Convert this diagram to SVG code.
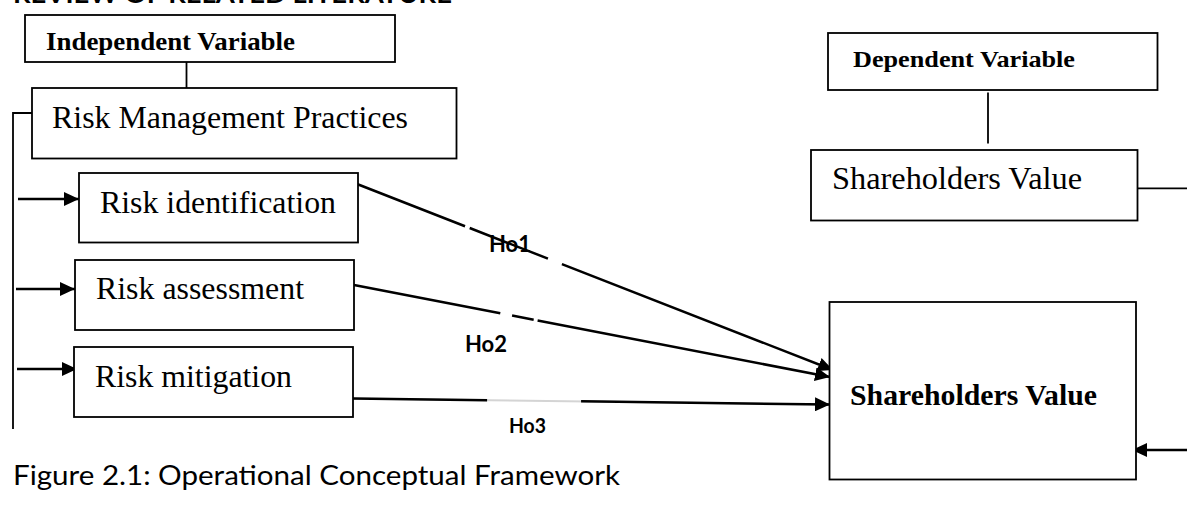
<svg xmlns="http://www.w3.org/2000/svg" width="1187" height="521" viewBox="0 0 1187 521">
  <defs>
    <style>
      .box { fill: #ffffff; stroke: #000000; stroke-width: 1.8; }
      .serif { font-family: "Liberation Serif", "Times New Roman", serif; fill: #000000; }
      .sans { font-family: Lato, "Open Sans", "Liberation Sans", sans-serif; fill: #000000; }
      .b { font-weight: bold; }
      .line { fill: none; stroke: #000000; stroke-width: 1.8; }
      .arrow { fill: none; stroke: #000000; stroke-width: 2.5; marker-end: url(#head); }
    </style>
    <marker id="head" markerUnits="userSpaceOnUse" markerWidth="16" markerHeight="14" refX="15" refY="7" orient="auto">
      <path d="M0,0 L15,7 L0,14 Z" fill="#000000"/>
    </marker>
  </defs>
  <rect x="0" y="0" width="1187" height="521" fill="#ffffff"/>

  <text class="sans b" x="13" y="3" font-size="24" textLength="439" lengthAdjust="spacingAndGlyphs">REVIEW OF RELATED LITERATURE</text>

  <g id="connectors">
    <line class="line" x1="186.5" y1="62" x2="186.5" y2="88"/>
    <line class="line" x1="988" y1="92.5" x2="988" y2="143.5"/>
    <polyline class="line" points="41,113 13,113 13,429"/>
    <line class="arrow" x1="18" y1="199" x2="79" y2="199"/>
    <line class="arrow" x1="16" y1="289" x2="75" y2="289"/>
    <line class="arrow" x1="17" y1="369" x2="77" y2="369"/>
    <line class="arrow" x1="357" y1="184" x2="833" y2="370" stroke-dasharray="116 5 84 15 1000"/>
    <line class="arrow" x1="354" y1="285" x2="830" y2="377" stroke-dasharray="149 12 22 4 1000"/>
    <line x1="352.6" y1="398.5" x2="830" y2="404.5" stroke="#d4d4d4" stroke-width="2"/>
    <line class="arrow" x1="352.6" y1="398.5" x2="830" y2="404.5" stroke-dasharray="134.5 94 1000"/>
    <line class="line" x1="1132" y1="188.3" x2="1187" y2="188.3"/>
    <line class="arrow" x1="1187" y1="450" x2="1132" y2="450"/>
  </g>

  <g id="independent-variable">
    <rect class="box" x="25" y="15" width="370" height="47"/>
    <text class="serif b" x="46" y="50" font-size="25" textLength="249" lengthAdjust="spacingAndGlyphs">Independent Variable</text>
  </g>

  <g id="risk-management-practices">
    <rect class="box" x="32" y="88" width="424.5" height="70.5"/>
    <text class="serif" x="52" y="128" font-size="32" textLength="356" lengthAdjust="spacingAndGlyphs">Risk Management Practices</text>
  </g>

  <g id="risk-identification">
    <rect class="box" x="79" y="173" width="279" height="69.5"/>
    <text class="serif" x="100" y="213" font-size="31" textLength="236" lengthAdjust="spacingAndGlyphs">Risk identification</text>
  </g>

  <g id="risk-assessment">
    <rect class="box" x="75" y="260" width="279" height="70"/>
    <text class="serif" x="96" y="299" font-size="31" textLength="208" lengthAdjust="spacingAndGlyphs">Risk assessment</text>
  </g>

  <g id="risk-mitigation">
    <rect class="box" x="74" y="347" width="279" height="70"/>
    <text class="serif" x="95" y="387" font-size="31" textLength="197" lengthAdjust="spacingAndGlyphs">Risk mitigation</text>
  </g>

  <g id="dependent-variable">
    <rect class="box" x="828" y="33" width="329.5" height="57"/>
    <text class="serif b" x="853" y="67" font-size="24" textLength="222" lengthAdjust="spacingAndGlyphs">Dependent Variable</text>
  </g>

  <g id="shareholders-value-label">
    <rect class="box" x="811" y="150" width="326.5" height="70.5"/>
    <text class="serif" x="832" y="189" font-size="32" textLength="250" lengthAdjust="spacingAndGlyphs">Shareholders Value</text>
  </g>

  <g id="shareholders-value">
    <rect class="box" x="829.5" y="302" width="306.5" height="177.5"/>
    <text class="serif b" x="850" y="405" font-size="29.5" textLength="247" lengthAdjust="spacingAndGlyphs">Shareholders Value</text>
  </g>

  <g id="labels">
    <text class="sans b" x="489" y="252" font-size="22" textLength="42" lengthAdjust="spacingAndGlyphs">Ho1</text>
    <text class="sans b" x="465" y="352" font-size="22" textLength="42" lengthAdjust="spacingAndGlyphs">Ho2</text>
    <text class="sans b" x="509" y="433" font-size="20" textLength="37" lengthAdjust="spacingAndGlyphs">Ho3</text>
  </g>

  <text class="sans" x="13" y="485" font-size="27" textLength="607" lengthAdjust="spacingAndGlyphs">Figure 2.1: Operational Conceptual Framework</text>
</svg>
